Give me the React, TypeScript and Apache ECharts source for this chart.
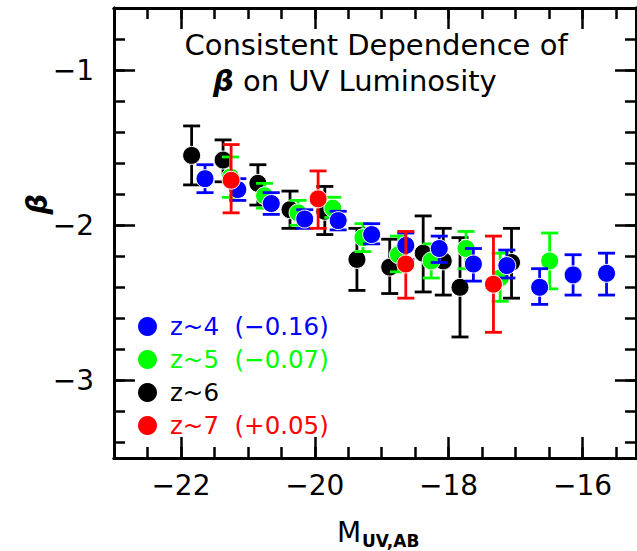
import React, { useEffect, useRef } from "react";
import * as echarts from "echarts";

const FONT = '"DejaVu Sans"';

const X_MIN = -23;
const X_MAX = -15.2;
const Y_MIN = -3.5;
const Y_MAX = -0.6;

const xMajor = [-22, -20, -18, -16];
const xMinor = [-22.5, -22, -21.5, -21, -20.5, -20, -19.5, -19, -18.5, -18, -17.5, -17, -16.5, -16, -15.5];
const yMajor = [-3, -2, -1];
const yMinor = [-3.4, -3.2, -3, -2.8, -2.6, -2.4, -2.2, -2, -1.8, -1.6, -1.4, -1.2, -1, -0.8];

// z~4 (blue)
const z4M = [-21.64, -21.15, -20.65, -20.15, -19.65, -19.15, -18.64, -18.14, -17.63, -17.13, -16.64, -16.14, -15.64];
const z4Beta = [-1.70, -1.77, -1.86, -1.96, -1.97, -2.06, -2.13, -2.15, -2.25, -2.26, -2.40, -2.32, -2.31];
const z4Hi = [-1.61, -1.70, -1.79, -1.90, -1.91, -1.99, -2.05, -2.07, -2.15, -2.16, -2.28, -2.19, -2.18];
const z4Lo = [-1.79, -1.84, -1.93, -2.02, -2.03, -2.12, -2.22, -2.24, -2.36, -2.34, -2.51, -2.45, -2.45];

// z~5 (green)
const z5M = [-21.26, -20.75, -20.25, -19.73, -19.28, -18.75, -18.26, -17.74, -17.23, -16.49];
const z5Beta = [-1.69, -1.81, -1.92, -1.89, -2.08, -2.19, -2.23, -2.15, -2.34, -2.23];
const z5Hi = [-1.56, -1.73, -1.84, -1.82, -1.99, -2.07, -2.12, -2.04, -2.18, -2.05];
const z5Lo = [-1.82, -1.89, -2.00, -1.95, -2.17, -2.30, -2.34, -2.28, -2.49, -2.41];

// z~6 (black)
const z6M = [-21.84, -21.37, -20.85, -20.37, -19.85, -19.37, -18.88, -18.38, -18.08, -17.83, -17.06];
const z6Beta = [-1.55, -1.58, -1.73, -1.90, -1.91, -2.22, -2.27, -2.18, -2.23, -2.40, -2.24];
const z6Hi = [-1.36, -1.45, -1.61, -1.78, -1.75, -2.02, -2.09, -1.94, -2.02, -2.08, -2.02];
const z6Lo = [-1.74, -1.72, -1.87, -2.02, -2.06, -2.42, -2.44, -2.43, -2.45, -2.72, -2.47];

// z~7 (red)
const z7M = [-21.25, -19.95, -18.64, -17.33];
const z7Beta = [-1.71, -1.83, -2.25, -2.38];
const z7Hi = [-1.48, -1.65, -2.04, -2.07];
const z7Lo = [-1.92, -2.02, -2.47, -2.69];

const legendNames = ["z~4  (\u22120.16)", "z~5  (\u22120.07)", "z~6", "z~7  (+0.05)"];
const colors = ["#0000ff", "#00ff00", "#000000", "#ff0000"];

const fmt = (v: number) => (v < 0 ? "\u2212" : "") + String(Math.abs(v));

function mkX(pos: string, ticks: number[], len: number, labels: boolean) {
  return {
    type: "value",
    position: pos,
    min: X_MIN,
    max: X_MAX,
    axisLine: { show: true, onZero: false, lineStyle: { color: "#000", width: 3 } },
    axisTick: { show: true, inside: true, length: len, customValues: ticks, lineStyle: { color: "#000", width: 2.5 } },
    axisLabel: labels
      ? { show: true, customValues: ticks, formatter: fmt, fontSize: 28, fontFamily: FONT, color: "#000", margin: 13 }
      : { show: false },
    splitLine: { show: false },
  };
}

function mkY(pos: string, ticks: number[], len: number, labels: boolean) {
  return {
    type: "value",
    position: pos,
    min: Y_MIN,
    max: Y_MAX,
    axisLine: { show: true, onZero: false, lineStyle: { color: "#000", width: 3 } },
    axisTick: { show: true, inside: true, length: len, customValues: ticks, lineStyle: { color: "#000", width: 2.5 } },
    axisLabel: labels
      ? { show: true, customValues: ticks, formatter: fmt, fontSize: 28, fontFamily: FONT, color: "#000", margin: 20 }
      : { show: false },
    splitLine: { show: false },
  };
}

function errSeries(name: string, M: number[], lo: number[], hi: number[], color: string, z: number) {
  return {
    type: "custom",
    name,
    xAxisIndex: 0,
    yAxisIndex: 0,
    z,
    data: M.map((m, i) => [m, lo[i], hi[i]]),
    encode: { x: 0, y: [1, 2] },
    renderItem: (params: any, api: any) => {
      const x = api.value(0);
      const a = api.coord([x, api.value(1)]);
      const b = api.coord([x, api.value(2)]);
      const w = 8.5;
      const st = { stroke: color, lineWidth: 2.8 };
      return {
        type: "group",
        children: [
          { type: "line", shape: { x1: a[0], y1: a[1], x2: b[0], y2: b[1] }, style: st },
          { type: "line", shape: { x1: a[0] - w, y1: a[1], x2: a[0] + w, y2: a[1] }, style: st },
          { type: "line", shape: { x1: b[0] - w, y1: b[1], x2: b[0] + w, y2: b[1] }, style: st },
        ],
      };
    },
  };
}

function dotSeries(name: string, M: number[], B: number[], color: string, z: number) {
  return {
    type: "scatter",
    name,
    xAxisIndex: 0,
    yAxisIndex: 0,
    z,
    symbol: "circle",
    symbolSize: 18,
    data: M.map((m, i) => [m, B[i]]),
    itemStyle: { color, opacity: 1, borderColor: "#ffffff", borderWidth: 1 },
  };
}

export default function App() {
  const ref = useRef<HTMLDivElement>(null);
  useEffect(() => {
    if (!ref.current) return;
    const chart = echarts.init(ref.current, undefined, { renderer: "svg" });
    const legendText = { fontFamily: FONT, fontSize: 24.5, lineHeight: 20, height: 20, padding: [0, 0, 0, 8] };
    const option: any = {
      animation: false,
      backgroundColor: "#ffffff",
      grid: { left: 114, top: 8, right: 1, bottom: 93, containLabel: false },
      xAxis: [
        mkX("bottom", xMinor, 11, false),
        mkX("bottom", xMajor, 21, true),
        mkX("top", xMinor, 11, false),
        mkX("top", xMajor, 21, false),
      ],
      yAxis: [
        mkY("left", yMinor, 11, false),
        mkY("left", yMajor, 21, true),
        mkY("right", yMinor, 11, false),
        mkY("right", yMajor, 21, false),
      ],
      legend: {
        orient: "vertical",
        left: 138,
        top: 314,
        itemWidth: 19,
        itemHeight: 19,
        itemGap: 8,
        icon: "circle",
        selectedMode: false,
        padding: 0,
        textStyle: legendText,
        data: legendNames.map((n, i) => ({
          name: n,
          icon: "circle",
          itemStyle: { color: colors[i], borderWidth: 0 },
          textStyle: { ...legendText, color: colors[i] },
        })),
      },
      graphic: [
        {
          type: "text",
          x: 376,
          y: 45,
          style: { text: "Consistent Dependence of", fill: "#000", font: `29px ${FONT}`, align: "center", verticalAlign: "middle" },
        },
        {
          type: "text",
          x: 213,
          y: 81,
          style: {
            text: "{b|\u03b2} on UV Luminosity",
            fill: "#000",
            font: `29px ${FONT}`,
            align: "left",
            verticalAlign: "middle",
            rich: { b: { fontFamily: FONT, fontSize: 29, fontWeight: "bold", fontStyle: "italic", fill: "#000" } },
          },
        },
        {
          type: "text",
          x: 37,
          y: 204,
          rotation: Math.PI / 2,
          style: { text: "\u03b2", fill: "#000", font: `italic bold 29px ${FONT}`, align: "center", verticalAlign: "middle" },
        },
        {
          type: "text",
          x: 337,
          y: 532,
          style: { text: "M", fill: "#000", font: `28px ${FONT}`, align: "left", verticalAlign: "middle" },
        },
        {
          type: "text",
          x: 362,
          y: 541,
          style: { text: "UV,AB", fill: "#000", font: `bold 17px ${FONT}`, align: "left", verticalAlign: "middle" },
        },
      ],
      series: [
        dotSeries(legendNames[2], z6M, z6Beta, colors[2], 11),
        errSeries("err6", z6M, z6Lo, z6Hi, colors[2], 10),
        dotSeries(legendNames[1], z5M, z5Beta, colors[1], 13),
        errSeries("err5", z5M, z5Lo, z5Hi, colors[1], 12),
        dotSeries(legendNames[0], z4M, z4Beta, colors[0], 15),
        errSeries("err4", z4M, z4Lo, z4Hi, colors[0], 14),
        dotSeries(legendNames[3], z7M, z7Beta, colors[3], 17),
        errSeries("err7", z7M, z7Lo, z7Hi, colors[3], 16),
      ],
    };
    chart.setOption(option);
    return () => chart.dispose();
  }, []);
  return (
    <div
      ref={ref}
      style={{ position: "fixed", left: 0, top: 0, width: 637, height: 551, background: "#fff" }}
    />
  );
}
